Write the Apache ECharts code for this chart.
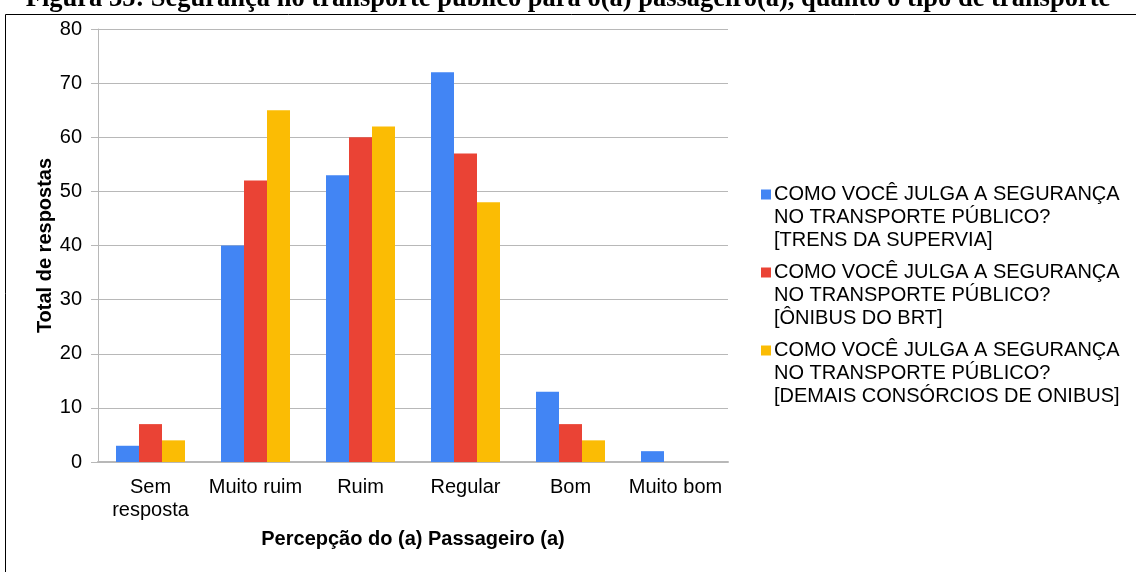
<!DOCTYPE html>
<html>
<head>
<meta charset="utf-8">
<script src="https://cdn.jsdelivr.net/npm/echarts@6.0.0/dist/echarts.min.js"></script>
<style>
    html,body{margin:0;padding:0;background:#fff;}
    #main{width:1136px;height:572px;}
</style>
</head>
<body>
<div id="main"></div>
<script>
    // categorias e valores
    var categorias = ['Sem\nresposta', 'Muito ruim', 'Ruim', 'Regular', 'Bom', 'Muito bom'];
    var trens = [3, 40, 53, 72, 13, 2];
    var brt = [7, 52, 60, 57, 7, 0];
    var demais = [4, 65, 62, 48, 4, 0];
    var nomes = [
        'COMO VOCÊ JULGA A SEGURANÇA\nNO TRANSPORTE PÚBLICO?\n[TRENS DA SUPERVIA]',
        'COMO VOCÊ JULGA A SEGURANÇA\nNO TRANSPORTE PÚBLICO?\n[ÔNIBUS DO BRT]',
        'COMO VOCÊ JULGA A SEGURANÇA\nNO TRANSPORTE PÚBLICO?\n[DEMAIS CONSÓRCIOS DE ONIBUS]'
    ];
    var yTicks = [0, 80, 10];

    var myChart = echarts.init(document.getElementById('main'));

    var fonte = 'Liberation Sans';
    // quadrado alinhado com a primeira linha do texto da legenda
    var iconeLegenda = 'path://M0,0 M0,6.5 L10,6.5 L10,16.5 L0,16.5 Z M10,69';

    var option = {
        color: ['#4285F4', '#EA4335', '#FBBC04'],
        animation: false,
        title: {
            text: 'Figura 35: Segurança no transporte público para o(a) passageiro(a), quanto o tipo de transporte',
            left: 'center',
            top: -19,
            textStyle: {
                fontFamily: 'Liberation Serif',
                fontWeight: 'bold',
                fontSize: 26.5,
                color: '#000'
            }
        },
        graphic: [{
            type: 'rect',
            shape: {x: 5.5, y: 14.5, width: 1140, height: 600},
            style: {fill: 'none', stroke: '#000', lineWidth: 1},
            z: -1
        }],
        grid: {
            left: 98,
            right: 408,
            top: 29,
            bottom: 110
        },
        legend: {
            orient: 'vertical',
            left: 756,
            top: 178,
            itemWidth: 10,
            itemHeight: 69,
            itemGap: 9,
            icon: iconeLegenda,
            textStyle: {
                fontFamily: fonte,
                fontSize: 20,
                lineHeight: 23,
                color: '#000',
                padding: [0, 0, 0, -2]
            },
            data: nomes
        },
        xAxis: {
            type: 'category',
            data: categorias,
            name: 'Percepção do (a) Passageiro (a)',
            nameLocation: 'middle',
            nameGap: 67,
            nameTextStyle: {
                fontFamily: fonte,
                fontWeight: 'bold',
                fontSize: 20,
                color: '#000'
            },
            axisTick: {show: false},
            axisLine: {
                show: true,
                lineStyle: {color: '#b8b8b8', width: 2}
            },
            axisLabel: {
                interval: 0,
                margin: 14,
                fontFamily: fonte,
                fontSize: 20,
                lineHeight: 23,
                color: '#000'
            }
        },
        yAxis: {
            type: 'value',
            min: yTicks[0],
            max: yTicks[1],
            interval: yTicks[2],
            name: 'Total de respostas',
            nameLocation: 'middle',
            nameRotate: 90,
            nameGap: 43,
            nameMoveOverlap: false,
            nameTextStyle: {
                fontFamily: fonte,
                fontWeight: 'bold',
                fontSize: 20,
                color: '#000'
            },
            axisLine: {
                show: true,
                lineStyle: {color: '#b8b8b8', width: 1}
            },
            axisTick: {
                show: true,
                length: 7,
                lineStyle: {color: '#b8b8b8'}
            },
            axisLabel: {
                margin: 16,
                fontFamily: fonte,
                fontSize: 20,
                color: '#000'
            },
            splitLine: {
                show: true,
                lineStyle: {color: '#b8b8b8', width: 1}
            }
        },
        series: [
            {name: nomes[0], type: 'bar', data: trens, barWidth: 23, barGap: '0%'},
            {name: nomes[1], type: 'bar', data: brt, barWidth: 23, barGap: '0%'},
            {name: nomes[2], type: 'bar', data: demais, barWidth: 23, barGap: '0%'}
        ]
    };

    myChart.setOption(option, true);
</script>
</body>
</html>
